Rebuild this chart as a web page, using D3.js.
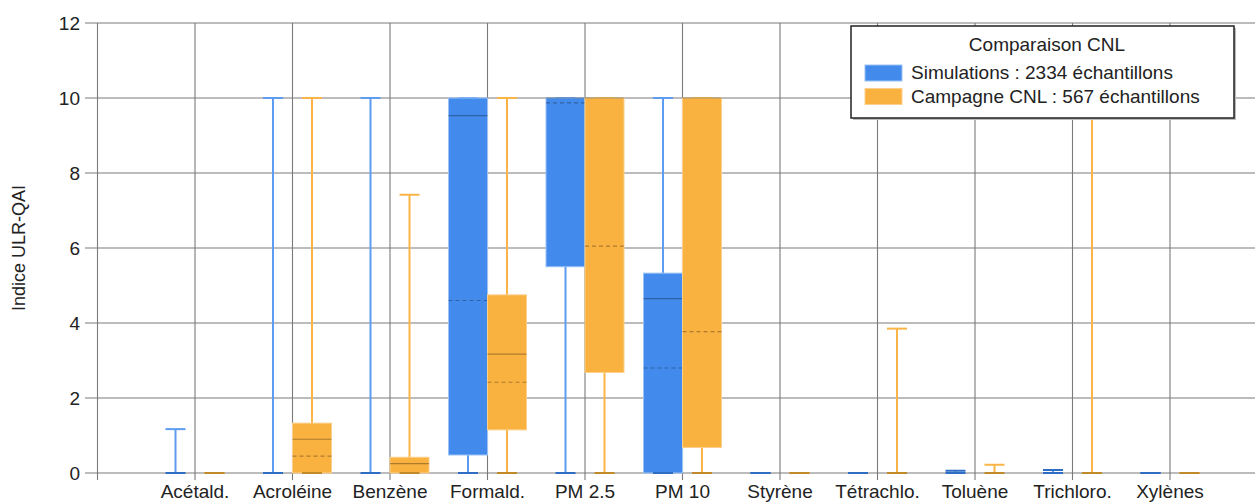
<!DOCTYPE html>
<html><head><meta charset="utf-8">
<script src="https://cdn.jsdelivr.net/npm/d3@7"></script>
<style>body{margin:0;background:#fff;}svg{display:block;font-family:"Liberation Sans",Arial,sans-serif;}</style>
</head><body>
<svg id="c" width="1255" height="502"></svg>
<script>
const categories = ["Acétald.", "Acroléine", "Benzène", "Formald.", "PM 2.5", "PM 10", "Styrène", "Tétrachlo.", "Toluène", "Trichloro.", "Xylènes"];
const yTicks = [0, 2, 4, 6, 8, 10, 12];
// Simulations (blue)
const simMin    = [0, 0, 0, 0, 0, 0, 0, 0, 0, 0, 0];
const simQ1     = [0, 0, 0, 0.48, 5.5, 0, 0, 0, 0, 0, 0];
const simMedian = [0, 0, 0, 9.53, 10, 4.65, 0, 0, 0, 0, 0];
const simMean   = [null, null, null, 4.6, 9.87, 2.8, null, null, null, null, null];
const simQ3     = [0, 0, 0, 10, 10, 5.33, 0, 0, 0, 0, 0];
const simMax    = [1.17, 10, 10, 10, 10, 10, 0, 0, 0.06, 0.08, 0];
// Campagne CNL (orange)
const cnlMin    = [0, 0, 0, 0, 0, 0, 0, 0, 0, 0, 0];
const cnlQ1     = [0, 0, 0, 1.15, 2.68, 0.68, 0, 0, 0, 0, 0];
const cnlMedian = [0, 0.9, 0.25, 3.17, 10, 10, 0, 0, 0, 0, 0];
const cnlMean   = [null, 0.45, null, 2.42, 6.05, 3.77, null, null, null, null, null];
const cnlQ3     = [0, 1.33, 0.42, 4.75, 10, 10, 0, 0, 0, 0, 0];
const cnlMax    = [0, 10, 7.42, 10, 10, 10, 0, 3.85, 0.22, 10, 0];

const series = [
  {name: "Simulations : 2334 échantillons", fill: "#428bec", edge: "#9cc2f5", whisker: "#5d9cf0", cap0: "#2f6cc4", off: -1,
   min: simMin, q1: simQ1, med: simMedian, mean: simMean, q3: simQ3, max: simMax},
  {name: "Campagne CNL : 567 échantillons", fill: "#f9b140", edge: "#fbd08a", whisker: "#fbb446", cap0: "#c08a2a", off: 1,
   min: cnlMin, q1: cnlQ1, med: cnlMedian, mean: cnlMean, q3: cnlQ3, max: cnlMax}
];

const svg = d3.select("#c");
const x = d3.scaleLinear().domain([0, 12]).range([97.5, 1267.5]);
const y = d3.scaleLinear().domain([0, 12]).range([473, 23]);
const boxW = 39, capW = 20;
const grid = "#7a7a7a";
const fs = 19;

// horizontal gridlines + y axis
const gy = svg.append("g");
yTicks.forEach(t => {
  gy.append("line").attr("x1", 85).attr("x2", 1255).attr("y1", y(t)).attr("y2", y(t))
    .attr("stroke", grid).attr("stroke-width", 1.1);
  gy.append("text").attr("x", 80).attr("y", y(t)).attr("dy", "0.36em").attr("text-anchor", "end")
    .attr("font-size", fs).attr("fill", "#222").text(t);
});
// vertical axis + category gridlines
gy.append("line").attr("x1", x(0)).attr("x2", x(0)).attr("y1", y(12)).attr("y2", 480)
  .attr("stroke", grid).attr("stroke-width", 1.1);
categories.forEach((c, i) => {
  gy.append("line").attr("x1", x(i + 1)).attr("x2", x(i + 1)).attr("y1", y(12)).attr("y2", 480)
    .attr("stroke", grid).attr("stroke-width", 1.1);
  gy.append("text").attr("x", x(i + 1)).attr("y", 498).attr("text-anchor", "middle")
    .attr("font-size", fs).attr("fill", "#222").text(c);
});
svg.append("text").attr("transform", `translate(25,${y(6)}) rotate(-90)`).attr("text-anchor", "middle")
  .attr("font-size", 18).attr("fill", "#222").text("Indice ULR-QAI");

// boxes
const gb = svg.append("g");
series.forEach(s => {
  categories.forEach((c, i) => {
    const cx = x(i + 1);
    const bx = s.off < 0 ? cx - boxW : cx;
    const wx = bx + boxW / 2;
    if (s.max[i] > s.min[i]) {
      gb.append("line").attr("x1", wx).attr("x2", wx).attr("y1", y(s.min[i])).attr("y2", y(s.max[i]))
        .attr("stroke", s.whisker).attr("stroke-width", 2);
    }
    gb.append("line").attr("x1", wx - capW / 2).attr("x2", wx + capW / 2).attr("y1", y(s.max[i])).attr("y2", y(s.max[i]))
      .attr("stroke", s.max[i] < 0.3 && s.off < 0 ? s.cap0 : s.whisker).attr("stroke-width", 2);
    if (s.q3[i] > s.q1[i]) {
      gb.append("rect").attr("x", bx).attr("y", y(s.q3[i])).attr("width", boxW)
        .attr("height", y(s.q1[i]) - y(s.q3[i])).attr("fill", s.fill)
        .attr("stroke", s.edge).attr("stroke-width", 1);
    }
    gb.append("line").attr("x1", wx - capW / 2).attr("x2", wx + capW / 2).attr("y1", y(s.min[i])).attr("y2", y(s.min[i]))
      .attr("stroke", s.cap0).attr("stroke-width", 2);
    if (s.q3[i] > s.q1[i]) {
      gb.append("line").attr("x1", bx).attr("x2", bx + boxW).attr("y1", y(s.med[i])).attr("y2", y(s.med[i]))
        .attr("stroke", "rgba(0,0,0,0.3)").attr("stroke-width", 1.2);
      if (s.mean[i] != null) {
        gb.append("line").attr("x1", bx).attr("x2", bx + boxW).attr("y1", y(s.mean[i])).attr("y2", y(s.mean[i]))
          .attr("stroke", "rgba(0,0,0,0.3)").attr("stroke-width", 1.2).attr("stroke-dasharray", "4,3");
      }
    }
  });
});

// legend
const lg = svg.append("g");
lg.append("rect").attr("x", 853).attr("y", 28).attr("width", 383).attr("height", 92).attr("fill", "#bbb");
lg.append("rect").attr("x", 851).attr("y", 26).attr("width", 383).attr("height", 92)
  .attr("fill", "#fff").attr("stroke", "#222").attr("stroke-width", 1.5);
lg.append("text").attr("x", 1047).attr("y", 51).attr("text-anchor", "middle").attr("font-size", fs)
  .attr("fill", "#222").text("Comparaison CNL");
series.forEach((s, k) => {
  lg.append("rect").attr("x", 865).attr("y", 65 + k * 23.5).attr("width", 37).attr("height", 16)
    .attr("fill", s.fill).attr("stroke", s.edge).attr("stroke-width", 1);
  lg.append("text").attr("x", 911).attr("y", 79 + k * 24).attr("font-size", fs).attr("fill", "#222").text(s.name);
});
</script>
</body></html>
